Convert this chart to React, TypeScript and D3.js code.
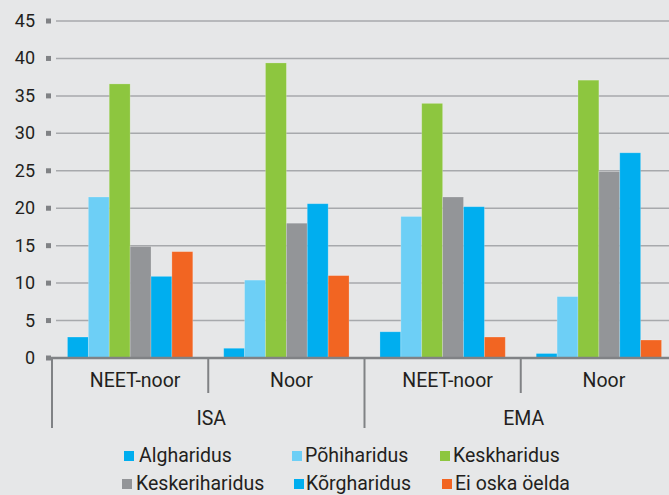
import React from "react";
import * as d3 from "d3";

const groups = ["ISA", "EMA"];
const categories = ["ISA|NEET-noor", "ISA|Noor", "EMA|NEET-noor", "EMA|Noor"];
const categoryLabels = ["NEET-noor", "Noor", "NEET-noor", "Noor"];
const series = ["Algharidus", "Põhiharidus", "Keskharidus", "Keskeriharidus", "Kõrgharidus", "Ei oska öelda"];
const colors = ["#00aeef", "#6dcff6", "#8dc63f", "#939598", "#00aeef", "#f26522"];
// values[series][category]
const algharidus = [2.8, 1.3, 3.5, 0.6];
const pohiharidus = [21.5, 10.4, 18.9, 8.2];
const keskharidus = [36.6, 39.4, 34.0, 37.1];
const keskeriharidus = [14.9, 18.0, 21.5, 24.9];
const korgharidus = [10.9, 20.6, 20.2, 27.4];
const eiOska = [14.2, 11.0, 2.8, 2.4];
const values = [algharidus, pohiharidus, keskharidus, keskeriharidus, korgharidus, eiOska];
const yTicks = [0, 5, 10, 15, 20, 25, 30, 35, 40, 45];

const W = 669;
const H = 495;
const FONT = "Roboto, 'Open Sans', sans-serif";
const TEXT = "#231f20";

export default function App() {
  const y = d3.scaleLinear().domain([0, 45]).range([358, 21]);
  const x0 = d3.scaleBand().domain(categories).range([52, 677]).paddingInner(0).paddingOuter(0);
  const x1 = d3.scaleBand().domain(series).range([0, x0.bandwidth()]).paddingInner(0).paddingOuter(0.74);
  const xg = d3.scaleBand().domain(groups).range([52, 677]);

  const legendRows = [
    [
      { i: 0, sx: 124, tx: 139 },
      { i: 1, sx: 292, tx: 305 },
      { i: 2, sx: 440, tx: 453 },
    ],
    [
      { i: 3, sx: 122, tx: 136 },
      { i: 4, sx: 294, tx: 306 },
      { i: 5, sx: 442, tx: 455 },
    ],
  ];
  const legendY = [462, 490];

  return (
    <svg
      width={W}
      height={H}
      style={{ position: "absolute", left: 0, top: 0, display: "block" }}
      fontFamily={FONT}
    >
      <rect x={0} y={0} width={W} height={H} fill="#e6e7e8" />
      {/* gridlines + tick squares + labels */}
      {yTicks.map((t) => (
        <g key={t}>
          {t > 0 && (
            <line x1={56} x2={W} y1={y(t)} y2={y(t)} stroke="#a7a9ac" strokeWidth={1.5} />
          )}
          <rect x={46} y={y(t) - 2.5} width={5} height={5} fill="#808285" />
          <text x={35} y={y(t) + 6} textAnchor="end" fontSize={18} fill={TEXT}>
            {t}
          </text>
        </g>
      ))}
      {/* bars */}
      {categories.map((c, ci) => (
        <g key={c} transform={`translate(${x0(c)},0)`}>
          {series.map((s, si) => {
            const v = values[si][ci];
            return (
              <rect
                key={s}
                x={x1(s)}
                y={y(v)}
                width={x1.bandwidth()}
                height={y(0) - y(v)}
                fill={colors[si]}
                stroke="#ffffff"
                strokeOpacity={0.25}
                strokeWidth={0.8}
              />
            );
          })}
        </g>
      ))}
      {/* baseline */}
      <line x1={50} x2={W} y1={y(0)} y2={y(0)} stroke="#808285" strokeWidth={2.5} />
      {/* separators */}
      {categories.map((c, ci) => {
        const xx = x0(c)!;
        const outer = ci % 2 === 0;
        return (
          <line
            key={"sep" + c}
            x1={xx}
            x2={xx}
            y1={y(0)}
            y2={outer ? 428 : 393}
            stroke="#808285"
            strokeWidth={2}
          />
        );
      })}
      {/* category labels */}
      {categories.map((c, ci) => (
        <text
          key={"lab" + c}
          x={x0(c)! + x0.bandwidth() / 2 + 5}
          y={387}
          textAnchor="middle"
          fontSize={19.5}
          fill={TEXT}
        >
          {categoryLabels[ci]}
        </text>
      ))}
      {groups.map((g) => (
        <text
          key={"g" + g}
          x={xg(g)! + xg.bandwidth() / 2 + 3}
          y={425}
          textAnchor="middle"
          fontSize={19.5}
          fill={TEXT}
        >
          {g}
        </text>
      ))}
      {/* legend */}
      {legendRows.map((row, ri) =>
        row.map((it) => (
          <g key={"leg" + it.i}>
            <rect x={it.sx} y={legendY[ri] - 11} width={10} height={10} fill={colors[it.i]} />
            <text x={it.tx} y={legendY[ri]} fontSize={19.5} fill={TEXT}>
              {series[it.i]}
            </text>
          </g>
        ))
      )}
    </svg>
  );
}
